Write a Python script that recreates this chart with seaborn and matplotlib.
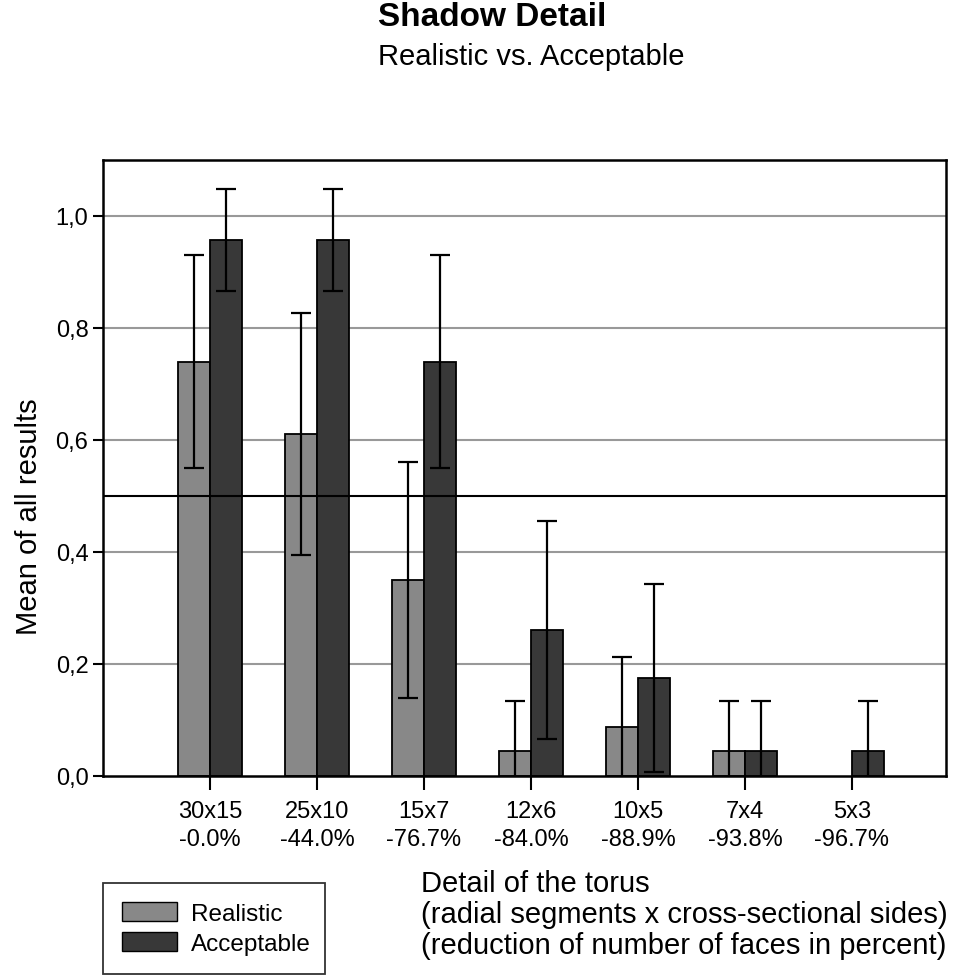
import matplotlib
matplotlib.use("Agg")
import matplotlib.pyplot as plt
from matplotlib.patches import Patch
import seaborn as sns
import pandas as pd
import numpy as np

# data
details = ["30x15", "25x10", "15x7", "12x6", "10x5", "7x4", "5x3"]
reduction = ["-0.0%", "-44.0%", "-76.7%", "-84.0%", "-88.9%", "-93.8%", "-96.7%"]
realistic = [0.74, 0.61, 0.35, 0.045, 0.088, 0.045, 0.0]
realistic_err = [0.19, 0.216, 0.21, 0.089, 0.125, 0.089, 0.0]
acceptable = [0.957, 0.957, 0.74, 0.261, 0.175, 0.045, 0.045]
acceptable_err = [0.091, 0.091, 0.19, 0.195, 0.168, 0.089, 0.089]
series = ["Realistic", "Acceptable"]
colors = ["#888888", "#383838"]

df = pd.DataFrame({
    "detail": details * 2,
    "series": [series[0]] * 7 + [series[1]] * 7,
    "mean": realistic + acceptable,
})

sns.set_style("white")
plt.rcParams["font.family"] = ["Liberation Sans", "DejaVu Sans"]
plt.rcParams["text.color"] = "black"
plt.rcParams["xtick.color"] = "black"
plt.rcParams["ytick.color"] = "black"

fig = plt.figure(figsize=(9.6, 9.78), dpi=100)
ax = fig.add_axes([103 / 960, 1 - 777 / 978, 843 / 960, 616 / 978])

sns.barplot(data=df, x="detail", y="mean", hue="series", palette=colors,
            width=0.6, edgecolor="black", linewidth=1.3, errorbar=None,
            legend=False, ax=ax, zorder=2)

# error bars at the centers of the bars seaborn placed
for cont, vals, errs in zip(ax.containers, [realistic, acceptable],
                            [realistic_err, acceptable_err]):
    for bar, v, e in zip(cont, vals, errs):
        if v == 0:
            bar.set_visible(False)
            continue
        xc = bar.get_x() + bar.get_width() / 2
        ax.errorbar(xc, v, yerr=e, color="black", lw=1.6, capsize=7,
                    capthick=1.6, zorder=4)

ax.set_ylim(0, 1.1)
ax.set_xlim(-1, 6.88)
ax.set_yticks([0, 0.2, 0.4, 0.6, 0.8, 1.0])
ax.set_yticklabels(["0,0", "0,2", "0,4", "0,6", "0,8", "1,0"], fontsize=17)
ax.set_xticks(range(7))
ax.set_xticklabels([f"{d}\n{r}" for d, r in zip(details, reduction)],
                   fontsize=17, linespacing=1.35)
ax.tick_params(axis="x", direction="out", length=10, width=1.5, pad=7,
               bottom=True, colors="black")
ax.tick_params(axis="y", direction="out", length=7, width=1.5, left=True,
               colors="black")
for y in [0.2, 0.4, 0.6, 0.8, 1.0]:
    ax.axhline(y, color="#999999", lw=1.5, zorder=0)
ax.axhline(0.5, color="black", lw=1.5, zorder=3)
for s in ax.spines.values():
    s.set_color("black")
    s.set_linewidth(1.8)
ax.set_xlabel("")
ax.set_ylabel("")

fig.text(15 / 960, 1 - 517 / 978, "Mean of all results", rotation=90,
         fontsize=21, ha="left", va="center")
fig.text(378 / 960, 1 - 18 / 978, "Shadow Detail", fontsize=24,
         fontweight="bold", ha="left", va="center")
fig.text(378 / 960, 1 - 57 / 978, "Realistic vs. Acceptable", fontsize=21,
         ha="left", va="center")
fig.text(421 / 960, 1 - 915 / 978,
         "Detail of the torus\n(radial segments x cross-sectional sides)\n"
         "(reduction of number of faces in percent)",
         fontsize=21, ha="left", va="center", linespacing=1.12)

handles = [Patch(facecolor=c, edgecolor="black", label=s)
           for c, s in zip(colors, series)]
leg = fig.legend(handles=handles, loc="lower left",
                 bbox_to_anchor=(103 / 960, 3 / 978, 222 / 960, 90 / 978),
                 mode="expand", fontsize=17.5, frameon=True, fancybox=False,
                 edgecolor="black", handlelength=2.25, handleheight=0.8,
                 handletextpad=0.6, borderaxespad=0, labelspacing=0.3,
                 borderpad=0.78)
leg.get_frame().set_linewidth(1.3)

fig.savefig("out.png", dpi=100, facecolor="white")
